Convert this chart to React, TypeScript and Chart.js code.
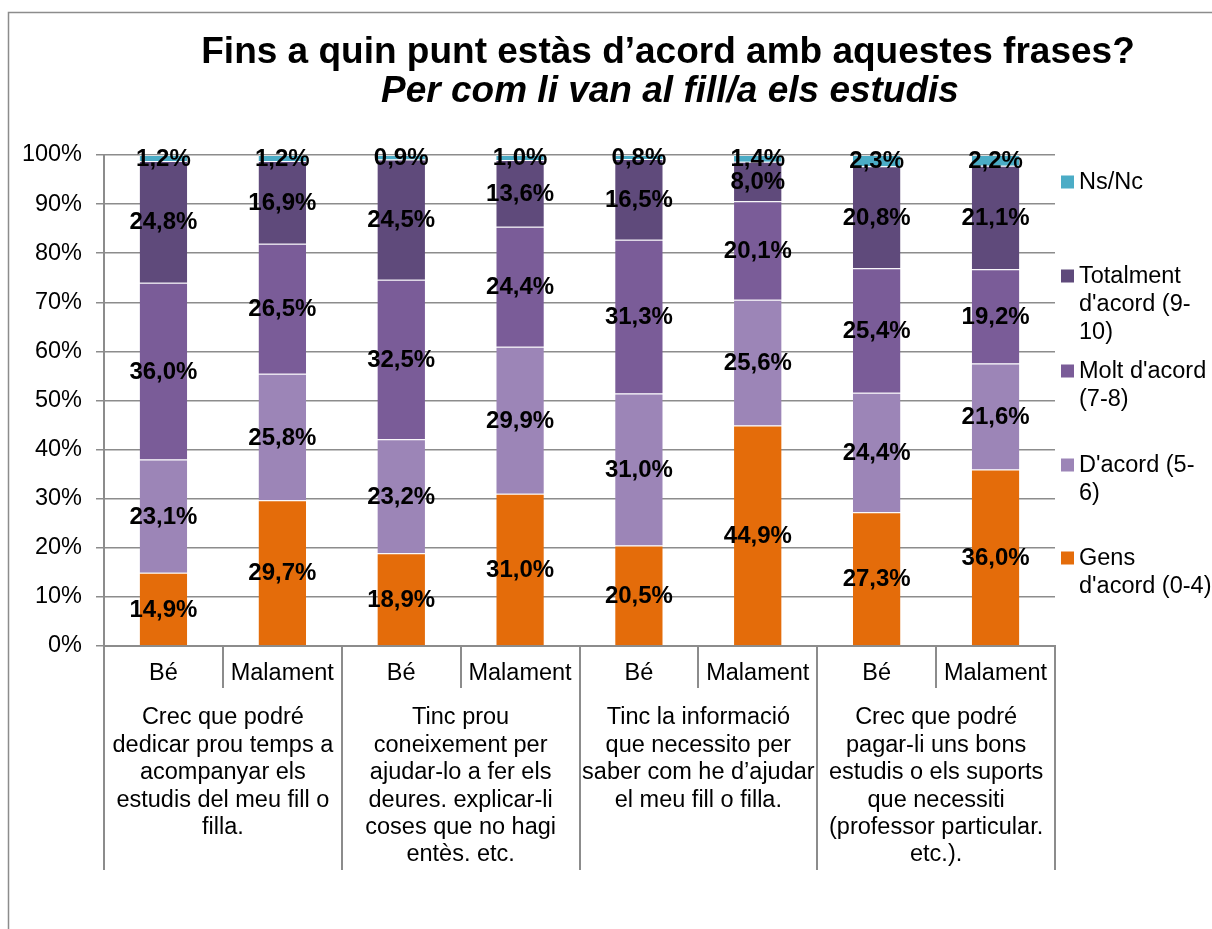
import React, { useEffect, useRef } from 'react';
import { Chart, registerables } from 'chart.js';

Chart.register(...registerables);

// ---------- data ----------
const categories = ['Bé', 'Malament', 'Bé', 'Malament', 'Bé', 'Malament', 'Bé', 'Malament'];

const groupLabels: string[][] = [
  ['Crec que podré', 'dedicar prou temps a', 'acompanyar els', 'estudis del meu fill o', 'filla.'],
  ['Tinc prou', 'coneixement per', 'ajudar-lo a fer els', 'deures. explicar-li', 'coses que no hagi', 'entès. etc.'],
  ['Tinc la informació', 'que necessito per', 'saber com he d’ajudar', 'el meu fill o filla.'],
  ['Crec que podré', 'pagar-li uns bons', 'estudis o els suports', 'que necessiti', '(professor particular.', 'etc.).'],
];

const gensDacord = [14.9, 29.7, 18.9, 31.0, 20.5, 44.9, 27.3, 36.0];
const dacord = [23.1, 25.8, 23.2, 29.9, 31.0, 25.6, 24.4, 21.6];
const moltDacord = [36.0, 26.5, 32.5, 24.4, 31.3, 20.1, 25.4, 19.2];
const totalmentDacord = [24.8, 16.9, 24.5, 13.6, 16.5, 8.0, 20.8, 21.1];
const nsNc = [1.2, 1.2, 0.9, 1.0, 0.8, 1.4, 2.3, 2.2];

const seriesNames = ["Gens d'acord (0-4)", "D'acord (5-6)", "Molt d'acord (7-8)", "Totalment d'acord (9-10)", 'Ns/Nc'];
const legendLines: string[][] = [
  ['Gens', "d'acord (0-4)"],
  ["D'acord (5-", '6)'],
  ["Molt d'acord", '(7-8)'],
  ['Totalment', "d'acord (9-", '10)'],
  ['Ns/Nc'],
];
const seriesColors = ['#E46C0A', '#9C85B7', '#7A5C98', '#5F4A7B', '#4BACC6'];

const yTickValues = [0, 10, 20, 30, 40, 50, 60, 70, 80, 90, 100];

const titleLine1 = 'Fins a quin punt estàs d’acord amb aquestes frases?';
const titleLine2 = 'Per com li van al fill/a els estudis';

// ---------- style ----------
const FONT = 'Arial, "Liberation Sans", sans-serif';
const GRAY = '#8c8c8c';
const W = 1212;
const H = 929;

const seriesValues = [gensDacord, dacord, moltDacord, totalmentDacord, nsNc];
const totals = categories.map((_, j) => seriesValues.reduce((s, arr) => s + arr[j], 0));

const fmt = (v: number) => v.toFixed(1).replace('.', ',') + '%';

const decorPlugin = {
  id: 'decor',
  beforeDraw(chart: any) {
    const { ctx, width, height } = chart;
    ctx.save();
    ctx.fillStyle = '#ffffff';
    ctx.fillRect(0, 0, width, height);
    ctx.strokeStyle = GRAY;
    ctx.lineWidth = 1.5;
    ctx.beginPath();
    ctx.moveTo(8.5, height + 5);
    ctx.lineTo(8.5, 12.5);
    ctx.lineTo(width + 5, 12.5);
    ctx.stroke();
    ctx.fillStyle = '#000';
    ctx.textAlign = 'center';
    ctx.textBaseline = 'alphabetic';
    ctx.font = `bold 37px ${FONT}`;
    ctx.fillText(titleLine1, 668, 63);
    ctx.font = `italic bold 37px ${FONT}`;
    ctx.fillText(titleLine2, 670, 102);
    ctx.restore();
  },
  afterDatasetsDraw(chart: any) {
    const { ctx } = chart;
    ctx.save();
    ctx.fillStyle = '#000';
    ctx.textAlign = 'center';
    ctx.textBaseline = 'middle';
    ctx.font = `bold 24px ${FONT}`;
    seriesValues.forEach((arr, di) => {
      const meta = chart.getDatasetMeta(di);
      meta.data.forEach((bar: any, j: number) => {
        const cy = (bar.y + bar.base) / 2;
        ctx.fillText(fmt(arr[j]), bar.x, cy + 1);
      });
    });
    ctx.restore();
  },
  afterDraw(chart: any) {
    const { ctx, chartArea } = chart;
    const xs = chart.scales.x;
    const n = categories.length;
    const step = (xs.right - xs.left) / n;
    const bottom = chartArea.bottom;
    ctx.save();
    // separators
    ctx.strokeStyle = GRAY;
    ctx.lineWidth = 2;
    for (let i = 0; i <= n; i++) {
      const x = Math.round(xs.left + i * step);
      const len = i % 2 === 0 ? 224 : 42;
      ctx.beginPath();
      ctx.moveTo(x, bottom);
      ctx.lineTo(x, bottom + len);
      ctx.stroke();
    }
    // sub labels
    ctx.fillStyle = '#000';
    ctx.textAlign = 'center';
    ctx.textBaseline = 'middle';
    ctx.font = `23.5px ${FONT}`;
    categories.forEach((c, i) => {
      ctx.fillText(c, xs.getPixelForValue(i), bottom + 28);
    });
    // group labels
    groupLabels.forEach((lines, g) => {
      const cx = (xs.getPixelForValue(2 * g) + xs.getPixelForValue(2 * g + 1)) / 2;
      lines.forEach((line, k) => {
        ctx.fillText(line, cx, bottom + 72 + k * 27.4);
      });
    });
    // legend
    const legendY = [558, 465, 371, 276, 182];
    ctx.textAlign = 'left';
    for (let s = seriesNames.length - 1; s >= 0; s--) {
      const y0 = legendY[s];
      ctx.fillStyle = seriesColors[s];
      ctx.fillRect(1061, y0 - 6.5, 13, 13);
      ctx.fillStyle = '#000';
      legendLines[s].forEach((line, k) => {
        ctx.fillText(line, 1079, y0 + 1 + k * 28);
      });
    }
    ctx.restore();
  },
};

export default function App() {
  const canvasRef = useRef<HTMLCanvasElement | null>(null);

  useEffect(() => {
    const canvas = canvasRef.current;
    if (!canvas) return;
    const chart = new Chart(canvas, {
      type: 'bar',
      data: {
        labels: categories,
        datasets: seriesValues.map((arr, i) => ({
          label: seriesNames[i],
          data: arr.map((v, j) => (v / totals[j]) * 100),
          backgroundColor: seriesColors[i],
          borderColor: 'rgba(255,255,255,0.45)',
          borderWidth: { top: 1, bottom: 0, left: 0, right: 0 },
          borderSkipped: false,
          barPercentage: 0.4,
          categoryPercentage: 1,
        })),
      },
      options: {
        responsive: false,
        animation: false,
        devicePixelRatio: 1,
        events: [],
        layout: { padding: { left: 0, right: 157, top: 155, bottom: 283 } },
        plugins: {
          legend: { display: false },
          title: { display: false },
          tooltip: { enabled: false },
        },
        scales: {
          x: {
            stacked: true,
            ticks: { display: false },
            grid: { display: false, drawTicks: false },
            border: { display: true, color: GRAY, width: 2 },
            afterFit: (scale: any) => {
              scale.height = 0;
            },
          },
          y: {
            stacked: true,
            min: 0,
            max: 100,
            afterBuildTicks: (scale: any) => {
              scale.ticks = yTickValues.map((v) => ({ value: v }));
            },
            ticks: {
              color: '#000',
              padding: 14,
              font: { family: FONT, size: 23.5 },
              callback: (v: any) => `${v}%`,
            },
            grid: { color: GRAY, lineWidth: 1.5, drawTicks: true, tickLength: 8 },
            border: { display: true, color: GRAY, width: 2 },
            afterFit: (scale: any) => {
              scale.width = 104;
            },
          },
        },
      },
      plugins: [decorPlugin],
    });
    return () => chart.destroy();
  }, []);

  return (
    <div style={{ position: 'fixed', left: 0, top: 0, width: W, height: H, background: '#fff' }}>
      <canvas ref={canvasRef} width={W} height={H} style={{ width: W, height: H, display: 'block' }} />
    </div>
  );
}
